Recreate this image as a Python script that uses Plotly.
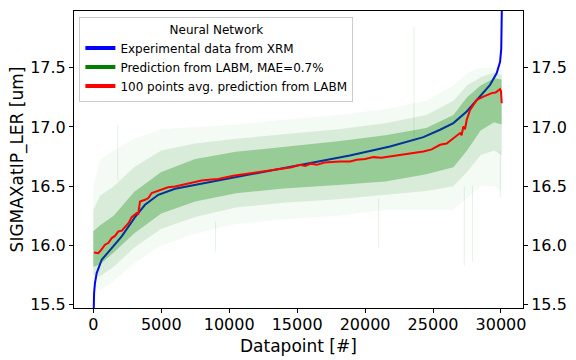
"""
Experimental XRM data vs LABM neural-network prediction, sorted by datapoint.
"""
import plotly.graph_objects as go

exp_x = [0, 20, 60, 120, 250, 618, 1000, 1354, 2090, 3069, 3805, 4784, 6013, 8221,
         10500, 13374, 16000, 18879, 21836, 24290, 25517, 26498, 27480, 28461,
         29197, 29688, 29933, 30020, 30056, 30080, 30100]
exp_y = [15.30, 15.50, 15.60, 15.68, 15.767, 15.879, 15.935, 15.978, 16.076, 16.239,
         16.343, 16.427, 16.478, 16.526, 16.575, 16.638, 16.695, 16.759, 16.835,
         16.914, 16.976, 17.032, 17.13, 17.256, 17.355, 17.454, 17.55, 17.66,
         17.79, 17.95, 18.30]

# 100-point moving average of the prediction
avg_x = [50, 368, 600, 861, 1100, 1354, 1600, 1843, 2100, 2333, 2600, 2826, 3194,
         3300, 3437, 3805, 4050, 4298, 5034, 5500, 6013, 6500, 6992, 7978, 8500,
         9200, 10304, 11000, 11600, 12762, 13300, 14000, 14600, 15213, 15600,
         16000, 16443, 17000, 17664, 18156, 18893, 19386, 20000, 20608, 21200,
         21836, 22400, 23066, 23700, 24288, 24900, 25517, 26000, 26498, 26989,
         27100, 27232, 27350, 27480, 27725, 28216, 28707, 29000, 29322, 29600,
         29933, 30000, 30056]
avg_y = [15.941, 15.935, 15.964, 16.006, 16.02, 16.062, 16.08, 16.118, 16.125, 16.16,
         16.19, 16.239, 16.273, 16.26, 16.371, 16.385, 16.40, 16.442, 16.47, 16.49,
         16.497, 16.51, 16.52, 16.548, 16.555, 16.56, 16.588, 16.60, 16.61, 16.63,
         16.64, 16.65, 16.66, 16.68, 16.67, 16.69, 16.68, 16.70, 16.708, 16.708,
         16.708, 16.722, 16.73, 16.745, 16.74, 16.75, 16.76, 16.773, 16.78, 16.793,
         16.81, 16.849, 16.86, 16.906, 16.948, 16.93, 17.003, 16.98, 17.06, 17.144,
         17.228, 17.256, 17.27, 17.285, 17.29, 17.319, 17.30, 17.20]

# envelope of the individual predictions (dense core, mid, faint outer)
band_x = [0, 500, 1500, 3000, 5000, 7500, 10500, 14000, 18000, 21500, 24500,
          26500, 27500, 28500, 29500, 30050]
core_lo = [15.82, 15.84, 15.94, 16.10, 16.27, 16.37, 16.44, 16.48, 16.51, 16.54,
           16.60, 16.66, 16.80, 16.97, 17.04, 17.02]
core_hi = [16.12, 16.17, 16.25, 16.45, 16.62, 16.73, 16.79, 16.83, 16.88, 16.93,
           16.99, 17.10, 17.25, 17.35, 17.41, 17.40]
mid_lo = [15.75, 15.74, 15.82, 15.98, 16.14, 16.24, 16.32, 16.36, 16.39, 16.43,
          16.46, 16.50, 16.62, 16.76, 16.80, 16.76]
mid_hi = [16.30, 16.42, 16.50, 16.66, 16.80, 16.86, 16.90, 16.94, 16.98, 17.03,
          17.10, 17.22, 17.35, 17.42, 17.46, 17.44]
out_lo = [15.68, 15.62, 15.70, 15.85, 16.00, 16.10, 16.18, 16.22, 16.25, 16.30,
          16.30, 16.30, 16.40, 16.50, 16.50, 16.45]
out_hi = [16.50, 16.72, 16.80, 16.90, 16.98, 17.00, 17.02, 17.06, 17.10, 17.15,
          17.22, 17.35, 17.45, 17.50, 17.50, 17.48]

# a few lone outlier predictions
spike_x = [1800, 9000, 21000, 23600, 27300, 27900, 29950]
spike_lo = [16.55, 15.95, 15.98, 16.9, 15.83, 15.86, 16.40]
spike_hi = [17.02, 16.2, 16.4, 17.85, 16.5, 16.5, 16.8]

x_ticks = [0, 5000, 10000, 15000, 20000, 25000, 30000]
x_ticktext = ["0", "5000", "10000", "15000", "20000", "25000", "30000"]
y_ticks = [15.5, 16.0, 16.5, 17.0, 17.5]
x_range = [-1420, 31620]
y_range = [15.472, 17.978]

FONT = "DejaVu Sans"
GREEN = "0,128,0"

fig = go.Figure()

fig.add_trace(go.Scatter(x=exp_x, y=exp_y, mode="lines",
                         line=dict(color="#0000ff", width=2), showlegend=False))

for lo, hi, op in [(out_lo, out_hi, 0.045), (mid_lo, mid_hi, 0.11), (core_lo, core_hi, 0.30)]:
    fig.add_trace(go.Scatter(x=band_x, y=lo, mode="lines", line=dict(width=0),
                             showlegend=False, hoverinfo="skip"))
    fig.add_trace(go.Scatter(x=band_x, y=hi, mode="lines", line=dict(width=0),
                             fill="tonexty", fillcolor=f"rgba({GREEN},{op})",
                             showlegend=False, hoverinfo="skip"))

for sx, lo, hi in zip(spike_x, spike_lo, spike_hi):
    fig.add_trace(go.Scatter(x=[sx, sx], y=[lo, hi], mode="lines",
                             line=dict(color=f"rgba({GREEN},0.10)", width=1),
                             showlegend=False, hoverinfo="skip"))

fig.add_trace(go.Scatter(x=avg_x, y=avg_y, mode="lines",
                         line=dict(color="#ff0000", width=2), showlegend=False))

# legend handles
for name, color in [("Experimental data from XRM", "#0000ff"),
                    ("Prediction from LABM, MAE=0.7%", "#008000"),
                    ("100 points avg. prediction from LABM", "#ff0000")]:
    fig.add_trace(go.Scatter(x=[None], y=[None], mode="lines", name=name,
                             line=dict(color=color, width=4)))

# right-hand axis copy
fig.add_trace(go.Scatter(x=[None], y=[None], yaxis="y2", showlegend=False))

axis_common = dict(showline=True, linecolor="black", linewidth=1, ticks="outside",
                   ticklen=4, tickcolor="black", showgrid=False, zeroline=False,
                   automargin=False,
                   tickfont=dict(family=FONT, size=16, color="black"))

fig.update_layout(
    width=576, height=360,
    margin=dict(l=74, r=53, t=11, b=52),
    plot_bgcolor="white", paper_bgcolor="white",
    font=dict(family=FONT, color="black"),
    xaxis=dict(range=x_range, tickvals=x_ticks, ticktext=x_ticktext, mirror=True,
               ticklabelstandoff=-2, **axis_common),
    yaxis=dict(range=y_range, tickvals=y_ticks, tickformat=".1f", **axis_common),
    yaxis2=dict(range=y_range, tickvals=y_ticks, tickformat=".1f", overlaying="y",
                side="right", **axis_common),
    legend=dict(x=0.012, y=0.98, xanchor="left", yanchor="top",
                bgcolor="rgba(255,255,255,0.8)", bordercolor="#cccccc", borderwidth=1,
                font=dict(family=FONT, size=12), traceorder="normal",
                title=dict(text="Neural Network", side="top center",
                           font=dict(family=FONT, size=12)),
                itemwidth=30, tracegroupgap=0),
    showlegend=True,
    annotations=[
        dict(text="Datapoint [#]", xref="paper", yref="paper", x=0.5, y=-0.086,
             xanchor="center", yanchor="top", showarrow=False,
             font=dict(family=FONT, size=17)),
        dict(text="SIGMAXatIP_LER [um]", xref="paper", yref="paper", x=-0.125, y=0.5,
             xanchor="center", yanchor="middle", textangle=-90, showarrow=False,
             font=dict(family=FONT, size=17)),
    ],
)

fig.write_html("out.html", config={"displayModeBar": False},
               post_script="document.body.style.margin='0';")
